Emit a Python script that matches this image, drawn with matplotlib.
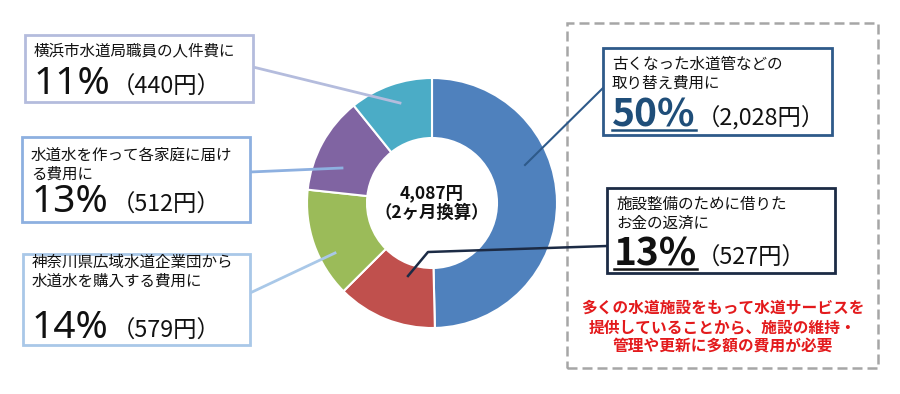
import matplotlib.pyplot as plt
from matplotlib.patches import Rectangle

plt.rcParams['font.family'] = ['Noto Sans CJK JP', 'DejaVu Sans']

# data (clockwise from 12 o'clock)
labels = ['古くなった水道管などの\n取り替え費用に', '施設整備のために借りた\nお金の返済に',
          '神奈川県広域水道企業団から\n水道水を購入する費用に', '水道水を作って各家庭に届け\nる費用に',
          '横浜市水道局職員の人件費に']
percents = [50, 13, 14, 13, 11]
amounts = ['（2,028円）', '（527円）', '（579円）', '（512円）', '（440円）']
values = [2028, 527, 579, 512, 440]
colors = ['#4F81BD', '#C0504D', '#9BBB59', '#8064A2', '#4BACC6']
total_text = '4,087円\n（2ヶ月換算）'
note = '多くの水道施設をもって水道サービスを\n提供していることから、施設の維持・\n管理や更新に多額の費用が必要'

W, H = 900, 394


def Y(y):
    # pixel row (top origin) -> data y
    return H - y


fig = plt.figure(figsize=(9, 3.94), dpi=100)
ax = fig.add_axes([0, 0, 1, 1])

cx, cy, r = 432, Y(203), 125
ax.pie(values, colors=colors, startangle=90, counterclock=False,
       center=(cx, cy), radius=r, frame=True,
       wedgeprops=dict(width=r * 0.48, edgecolor='white', linewidth=1.5))
ax.set_xlim(0, W)
ax.set_ylim(0, H)
ax.set_aspect('equal')
ax.axis('off')

ax.text(cx, Y(203), total_text, ha='center', va='center', fontsize=12.5,
        fontweight='bold', linespacing=1.15, color='#111111')

# dashed frame on the right
ax.add_patch(Rectangle((567, Y(368)), 311, 345, fill=False, edgecolor='#A6A6A6',
                       linestyle=(0, (4, 2)), linewidth=1.8))

# boxes: (left, top, right, bottom), edge colour, line-1 centre, pct baseline, pct x, amount x
boxes = [
    (603, 48, 832, 135, '#2E5A8A', 74, 126, 612, 697),
    (607, 188, 835, 273, '#1C2B45', 214, 265, 614, 697),
    (23, 254, 250, 345, '#A9C8E8', 272, 338, 32, 112),
    (22, 137, 250, 222, '#8DB0E0', 165, 212, 32, 112),
    (25, 35, 253, 102, '#B4BCDD', 51, 94, 34, 112),
]
pct_colors = ['#1F4E79', '#111111', '#111111', '#111111', '#111111']

fig.canvas.draw()
renderer = fig.canvas.get_renderer()
for i, (l, t, rr, b, ec, ly, by, px, axx) in enumerate(boxes):
    ax.add_patch(Rectangle((l, Y(b)), rr - l, b - t, facecolor='white',
                           edgecolor=ec, linewidth=2, zorder=3))
    ax.text(l + 9, Y(ly), labels[i], ha='left', va='center', fontsize=11.2,
            linespacing=1.15, color='#111111', zorder=4)
    bold = i < 2
    pt = ax.text(px, Y(by), f'{percents[i]}%', ha='left', va='baseline',
                 fontsize=28, fontweight='bold' if bold else 'normal',
                 color=pct_colors[i], zorder=4,
                 family=['Noto Sans'] if not bold else None)
    ax.text(axx, Y(by), amounts[i], ha='left', va='baseline', fontsize=16.8,
            color='#111111', zorder=4)
    if bold:
        bb = pt.get_window_extent(renderer)
        ax.plot([bb.x0, bb.x1], [Y(by) - 4, Y(by) - 4], color=pct_colors[i],
                lw=1.8, zorder=4)

# leader lines
ax.plot([603, 525], [Y(88), Y(165)], color='#2E5A8A', lw=1.5)
ax.plot([607, 428, 408], [Y(246), Y(252), Y(276)], color='#1C2B45', lw=1.8)
ax.plot([250, 335], [Y(293), Y(253)], color='#A9C8E8', lw=2)
ax.plot([250, 342], [Y(172), Y(168)], color='#8DB0E0', lw=2)
ax.plot([253, 400], [Y(67), Y(103)], color='#B4BCDD', lw=2)

ax.text(723, Y(327), note, ha='center', va='center', fontsize=11.3,
        fontweight='bold', color='#E31A1C', linespacing=1.25)

fig.savefig('out.png', dpi=100)
